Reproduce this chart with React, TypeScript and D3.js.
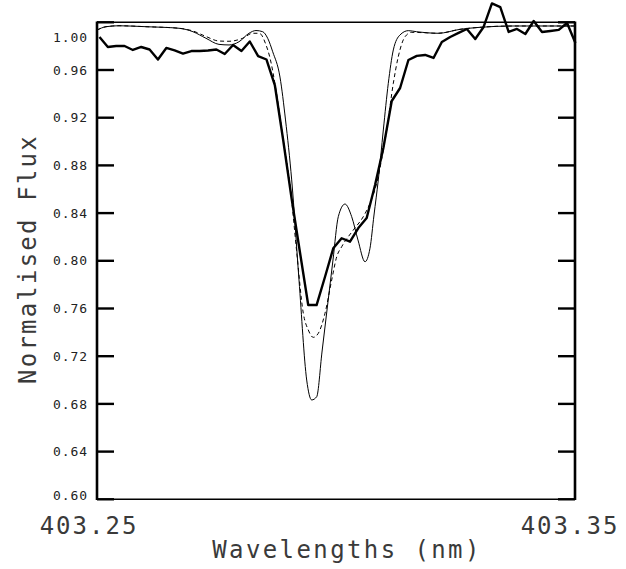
import * as d3 from 'd3';

// observed spectrum (thick line)
const obsWave = [
  403.25052, 403.25227, 403.25401, 403.25576, 403.25751, 403.25925, 403.261, 403.26275,
  403.2645, 403.26624, 403.26799, 403.26974, 403.27148, 403.27323, 403.27498, 403.27672,
  403.27847, 403.28022, 403.28196, 403.28371, 403.28546, 403.2872, 403.28895, 403.2907,
  403.29245, 403.29419, 403.29594, 403.29769, 403.29943, 403.30118, 403.30293, 403.30467,
  403.30642, 403.30817, 403.30991, 403.31166, 403.31341, 403.31515, 403.3169, 403.31865,
  403.3204, 403.32214, 403.32389, 403.32564, 403.32738, 403.32913, 403.33088, 403.33262,
  403.33437, 403.33612, 403.33786, 403.33961, 403.34136, 403.3431, 403.34485, 403.3466,
  403.34834, 403.35009,
];
const obsFlux = [
  0.9877, 0.9793, 0.9801, 0.9801, 0.9768, 0.9793, 0.9772, 0.9688,
  0.9785, 0.9764, 0.9738, 0.9759, 0.9759, 0.9764, 0.9772, 0.9734,
  0.981, 0.9759, 0.9839, 0.9717, 0.9688, 0.9474, 0.9013, 0.8526,
  0.8074, 0.7629, 0.7629, 0.7864, 0.8105, 0.8189, 0.816, 0.8275,
  0.8359, 0.8636, 0.8946, 0.934, 0.9449, 0.9684, 0.9718, 0.9726,
  0.9701, 0.9835, 0.9877, 0.9911, 0.9944, 0.986, 0.9961, 1.0158,
  1.0128, 0.9919, 0.9944, 0.9902, 1.0011, 0.9919, 0.9927, 0.9936,
  0.9994, 0.9826,
];

// model 1 (thin solid)
const modelAWave = [
  403.25, 403.25188, 403.2546, 403.26025, 403.26715, 403.27008, 403.2728, 403.27552,
  403.27762, 403.27971, 403.2818, 403.28326, 403.28467, 403.28571, 403.28676, 403.28828,
  403.28944, 403.29073, 403.29226, 403.29387, 403.29492, 403.29596, 403.29707, 403.29822,
  403.29937, 403.30048, 403.30188, 403.30328, 403.3046, 403.30607, 403.30711, 403.30795,
  403.30885, 403.3099, 403.31094, 403.31199, 403.31339, 403.31513, 403.31688, 403.3214,
  403.32594, 403.33013, 403.33703, 403.34414, 403.35,
];
const modelAFlux = [
  0.9935, 0.9963, 0.9971, 0.9963, 0.995, 0.9921, 0.9866, 0.9815,
  0.981, 0.9837, 0.9908, 0.9931, 0.9921, 0.9866, 0.9753, 0.9541,
  0.9181, 0.8678, 0.7839, 0.7, 0.6833, 0.686, 0.7235, 0.7621,
  0.8007, 0.837, 0.8476, 0.837, 0.8174, 0.7992, 0.8105, 0.8384,
  0.8678, 0.9097, 0.9488, 0.9768, 0.9894, 0.993, 0.9921, 0.9908,
  0.9941, 0.9958, 0.9969, 0.9969, 0.9969,
];

// model 2 (dashed)
const modelBWave = [
  403.25, 403.25188, 403.2546, 403.26025, 403.26715, 403.27008, 403.2728, 403.27552,
  403.27762, 403.28048, 403.28257, 403.28395, 403.28536, 403.28619, 403.28745, 403.28891,
  403.29038, 403.29174, 403.29316, 403.2942, 403.29525, 403.2963, 403.2977, 403.2991,
  403.30015, 403.30119, 403.30362, 403.30571, 403.30711, 403.30851, 403.30952, 403.31061,
  403.31199, 403.31303, 403.31444, 403.31584, 403.31827, 403.3214, 403.32594, 403.33013,
  403.33703, 403.34414, 403.35,
];
const modelBFlux = [
  0.9935, 0.9963, 0.9971, 0.9963, 0.995, 0.9927, 0.9881, 0.9843,
  0.9841, 0.9866, 0.9908, 0.9908, 0.981, 0.9701, 0.9432, 0.903,
  0.8636, 0.8091, 0.756, 0.742, 0.7358, 0.7392, 0.756, 0.7839,
  0.8034, 0.8118, 0.8258, 0.837, 0.8482, 0.865, 0.8845, 0.9097,
  0.9488, 0.9712, 0.9879, 0.9916, 0.9913, 0.9908, 0.9941, 0.9958,
  0.9969, 0.9969, 0.9969,
];

const yTicks = [0.6, 0.64, 0.68, 0.72, 0.76, 0.8, 0.84, 0.88, 0.92, 0.96, 1.0];
const xLabels = [403.25, 403.35];

const W = 626;
const H = 569;
const left = 97;
const right = 575;
const top = 22.3;
const bottom = 499.3;
const font = "'DejaVu Sans Mono', monospace";
const textColor = '#3a3a3a';

export default function App() {
  const x = d3.scaleLinear().domain([403.25, 403.35]).range([left, right]);
  const y = d3.scaleLinear().domain([0.6, 1.0]).range([bottom, top]);

  const linear = d3.line<[number, number]>().x(d => x(d[0])).y(d => y(d[1]));
  const smooth = d3
    .line<[number, number]>()
    .x(d => x(d[0]))
    .y(d => y(d[1]))
    .curve(d3.curveMonotoneX);

  const obs = obsWave.map((w, i) => [w, obsFlux[i]] as [number, number]);
  const modelA = modelAWave.map((w, i) => [w, modelAFlux[i]] as [number, number]);
  const modelB = modelBWave.map((w, i) => [w, modelBFlux[i]] as [number, number]);

  return (
    <svg
      width={W}
      height={H}
      style={{ position: 'absolute', left: 0, top: 0, background: '#fff' }}
    >
      {/* frame */}
      <line x1={left} x2={right} y1={top} y2={top} stroke="#000" strokeWidth={1.6} />
      <line x1={left} x2={right} y1={bottom} y2={bottom} stroke="#000" strokeWidth={1.6} />
      <line x1={left} x2={left} y1={top - 0.8} y2={bottom + 0.8} stroke="#000" strokeWidth={2.6} />
      <line x1={right} x2={right} y1={top - 0.8} y2={bottom + 0.8} stroke="#000" strokeWidth={2.6} />

      {/* y ticks, both sides, pointing inward */}
      {yTicks.map(t => (
        <g key={t}>
          <line x1={left} x2={left + 17} y1={y(t)} y2={y(t)} stroke="#000" strokeWidth={2.4} />
          <line x1={right - 17} x2={right} y1={y(t)} y2={y(t)} stroke="#000" strokeWidth={2.4} />
          <text
            x={88}
            y={Math.min(Math.max(y(t), top + 15), bottom - 4)}
            dy="0.36em"
            textAnchor="end"
            fontFamily={font}
            fontSize={13}
            letterSpacing={0.9}
            fill="#222"
          >
            {t.toFixed(2)}
          </text>
        </g>
      ))}

      {/* x end labels */}
      {xLabels.map((v, i) => (
        <text
          key={v}
          x={i === 0 ? 89 : 570}
          y={534}
          textAnchor="middle"
          fontFamily={font}
          fontSize={24}
          letterSpacing={2}
          fill={textColor}
        >
          {v.toFixed(2)}
        </text>
      ))}

      {/* models */}
      <path d={smooth(modelA) ?? ''} fill="none" stroke="#000" strokeWidth={1} />
      <path
        d={smooth(modelB) ?? ''}
        fill="none"
        stroke="#000"
        strokeWidth={1}
        strokeDasharray="4,3"
      />
      {/* observation */}
      <path
        d={linear(obs) ?? ''}
        fill="none"
        stroke="#000"
        strokeWidth={2.4}
        strokeLinejoin="round"
      />

      {/* axis titles */}
      <text
        x={347}
        y={558}
        textAnchor="middle"
        fontFamily={font}
        fontSize={24}
        letterSpacing={2.4}
        fill={textColor}
      >
        Wavelengths (nm)
      </text>
      <text
        transform="translate(36,259) rotate(-90)"
        textAnchor="middle"
        fontFamily={font}
        fontSize={24}
        letterSpacing={2.2}
        fill={textColor}
      >
        Normalised Flux
      </text>
    </svg>
  );
}
